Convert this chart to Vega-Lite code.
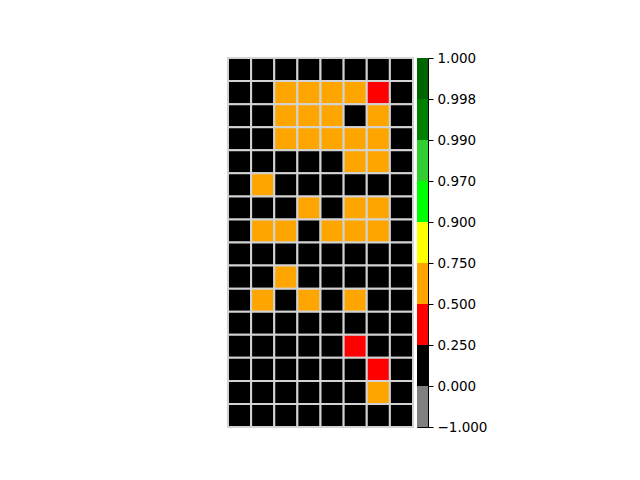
{
  "$schema": "https://vega.github.io/schema/vega-lite/v6.json",
  "padding": {"left": 226, "top": 50, "right": 5, "bottom": 5},
  "background": "white",
  "config": {
    "view": {"stroke": "black", "strokeWidth": 1},
    "font": "DejaVu Sans"
  },
  "datasets": {
    "cells": [
      {"r":0,"c":0,"v":0},{"r":0,"c":1,"v":0},{"r":0,"c":2,"v":0},{"r":0,"c":3,"v":0},{"r":0,"c":4,"v":0},{"r":0,"c":5,"v":0},{"r":0,"c":6,"v":0},{"r":0,"c":7,"v":0},
      {"r":1,"c":0,"v":0},{"r":1,"c":1,"v":0},{"r":1,"c":2,"v":0.6},{"r":1,"c":3,"v":0.6},{"r":1,"c":4,"v":0.6},{"r":1,"c":5,"v":0.6},{"r":1,"c":6,"v":0.3},{"r":1,"c":7,"v":0},
      {"r":2,"c":0,"v":0},{"r":2,"c":1,"v":0},{"r":2,"c":2,"v":0.6},{"r":2,"c":3,"v":0.6},{"r":2,"c":4,"v":0.6},{"r":2,"c":5,"v":0},{"r":2,"c":6,"v":0.6},{"r":2,"c":7,"v":0},
      {"r":3,"c":0,"v":0},{"r":3,"c":1,"v":0},{"r":3,"c":2,"v":0.6},{"r":3,"c":3,"v":0.6},{"r":3,"c":4,"v":0.6},{"r":3,"c":5,"v":0.6},{"r":3,"c":6,"v":0.6},{"r":3,"c":7,"v":0},
      {"r":4,"c":0,"v":0},{"r":4,"c":1,"v":0},{"r":4,"c":2,"v":0},{"r":4,"c":3,"v":0},{"r":4,"c":4,"v":0},{"r":4,"c":5,"v":0.6},{"r":4,"c":6,"v":0.6},{"r":4,"c":7,"v":0},
      {"r":5,"c":0,"v":0},{"r":5,"c":1,"v":0.6},{"r":5,"c":2,"v":0},{"r":5,"c":3,"v":0},{"r":5,"c":4,"v":0},{"r":5,"c":5,"v":0},{"r":5,"c":6,"v":0},{"r":5,"c":7,"v":0},
      {"r":6,"c":0,"v":0},{"r":6,"c":1,"v":0},{"r":6,"c":2,"v":0},{"r":6,"c":3,"v":0.6},{"r":6,"c":4,"v":0},{"r":6,"c":5,"v":0.6},{"r":6,"c":6,"v":0.6},{"r":6,"c":7,"v":0},
      {"r":7,"c":0,"v":0},{"r":7,"c":1,"v":0.6},{"r":7,"c":2,"v":0.6},{"r":7,"c":3,"v":0},{"r":7,"c":4,"v":0.6},{"r":7,"c":5,"v":0.6},{"r":7,"c":6,"v":0.6},{"r":7,"c":7,"v":0},
      {"r":8,"c":0,"v":0},{"r":8,"c":1,"v":0},{"r":8,"c":2,"v":0},{"r":8,"c":3,"v":0},{"r":8,"c":4,"v":0},{"r":8,"c":5,"v":0},{"r":8,"c":6,"v":0},{"r":8,"c":7,"v":0},
      {"r":9,"c":0,"v":0},{"r":9,"c":1,"v":0},{"r":9,"c":2,"v":0.6},{"r":9,"c":3,"v":0},{"r":9,"c":4,"v":0},{"r":9,"c":5,"v":0},{"r":9,"c":6,"v":0},{"r":9,"c":7,"v":0},
      {"r":10,"c":0,"v":0},{"r":10,"c":1,"v":0.6},{"r":10,"c":2,"v":0},{"r":10,"c":3,"v":0.6},{"r":10,"c":4,"v":0},{"r":10,"c":5,"v":0.6},{"r":10,"c":6,"v":0},{"r":10,"c":7,"v":0},
      {"r":11,"c":0,"v":0},{"r":11,"c":1,"v":0},{"r":11,"c":2,"v":0},{"r":11,"c":3,"v":0},{"r":11,"c":4,"v":0},{"r":11,"c":5,"v":0},{"r":11,"c":6,"v":0},{"r":11,"c":7,"v":0},
      {"r":12,"c":0,"v":0},{"r":12,"c":1,"v":0},{"r":12,"c":2,"v":0},{"r":12,"c":3,"v":0},{"r":12,"c":4,"v":0},{"r":12,"c":5,"v":0.3},{"r":12,"c":6,"v":0},{"r":12,"c":7,"v":0},
      {"r":13,"c":0,"v":0},{"r":13,"c":1,"v":0},{"r":13,"c":2,"v":0},{"r":13,"c":3,"v":0},{"r":13,"c":4,"v":0},{"r":13,"c":5,"v":0},{"r":13,"c":6,"v":0.3},{"r":13,"c":7,"v":0},
      {"r":14,"c":0,"v":0},{"r":14,"c":1,"v":0},{"r":14,"c":2,"v":0},{"r":14,"c":3,"v":0},{"r":14,"c":4,"v":0},{"r":14,"c":5,"v":0},{"r":14,"c":6,"v":0.6},{"r":14,"c":7,"v":0},
      {"r":15,"c":0,"v":0},{"r":15,"c":1,"v":0},{"r":15,"c":2,"v":0},{"r":15,"c":3,"v":0},{"r":15,"c":4,"v":0},{"r":15,"c":5,"v":0},{"r":15,"c":6,"v":0},{"r":15,"c":7,"v":0}
    ],
    "bar": [
      {"b":0,"b1":1,"v":-0.5},
      {"b":1,"b1":2,"v":0.1},
      {"b":2,"b1":3,"v":0.3},
      {"b":3,"b1":4,"v":0.6},
      {"b":4,"b1":5,"v":0.8},
      {"b":5,"b1":6,"v":0.95},
      {"b":6,"b1":7,"v":0.98},
      {"b":7,"b1":8,"v":0.995},
      {"b":8,"b1":9,"v":0.999}
    ]
  },
  "spacing": 1,
  "hconcat": [
    {
      "width": 185,
      "height": 369,
      "data": {"name": "cells"},
      "mark": {"type": "rect", "stroke": "#d3d3d3", "strokeWidth": 2},
      "encoding": {
        "x": {"field": "c", "type": "ordinal", "axis": null, "scale": {"paddingInner": 0, "paddingOuter": 0}},
        "y": {"field": "r", "type": "ordinal", "axis": null, "scale": {"paddingInner": 0, "paddingOuter": 0}},
        "color": {
          "field": "v", "type": "quantitative",
          "scale": {
            "type": "threshold",
            "domain": [0, 0.25, 0.5, 0.75, 0.9, 0.97, 0.99, 0.998],
            "range": ["#808080", "#000000", "#ff0000", "#ffa500", "#ffff00", "#00ff00", "#32cd32", "#008000", "#006400"]
          },
          "legend": null
        }
      }
    },
    {
      "width": 11,
      "height": 369,
      "data": {"name": "bar"},
      "mark": {"type": "rect"},
      "encoding": {
        "y": {
          "field": "b", "type": "quantitative",
          "scale": {"domain": [0, 9], "nice": false, "zero": false},
          "axis": {
            "orient": "right",
            "values": [0,1,2,3,4,5,6,7,8,9],
            "labelExpr": "['−1.000','0.000','0.250','0.500','0.750','0.900','0.970','0.990','0.998','1.000'][datum.value]",
            "title": null,
            "grid": false,
            "domain": false,
            "tickColor": "black",
            "tickSize": 5,
            "tickWidth": 1,
            "labelColor": "black",
            "labelFont": "DejaVu Sans",
            "labelFontSize": 13.5,
            "labelPadding": 4,
            "labelBaseline": "middle"
          }
        },
        "y2": {"field": "b1"},
        "color": {
          "field": "v", "type": "quantitative",
          "scale": {
            "type": "threshold",
            "domain": [0, 0.25, 0.5, 0.75, 0.9, 0.97, 0.99, 0.998],
            "range": ["#808080", "#000000", "#ff0000", "#ffa500", "#ffff00", "#00ff00", "#32cd32", "#008000", "#006400"]
          },
          "legend": null
        }
      }
    }
  ]
}
